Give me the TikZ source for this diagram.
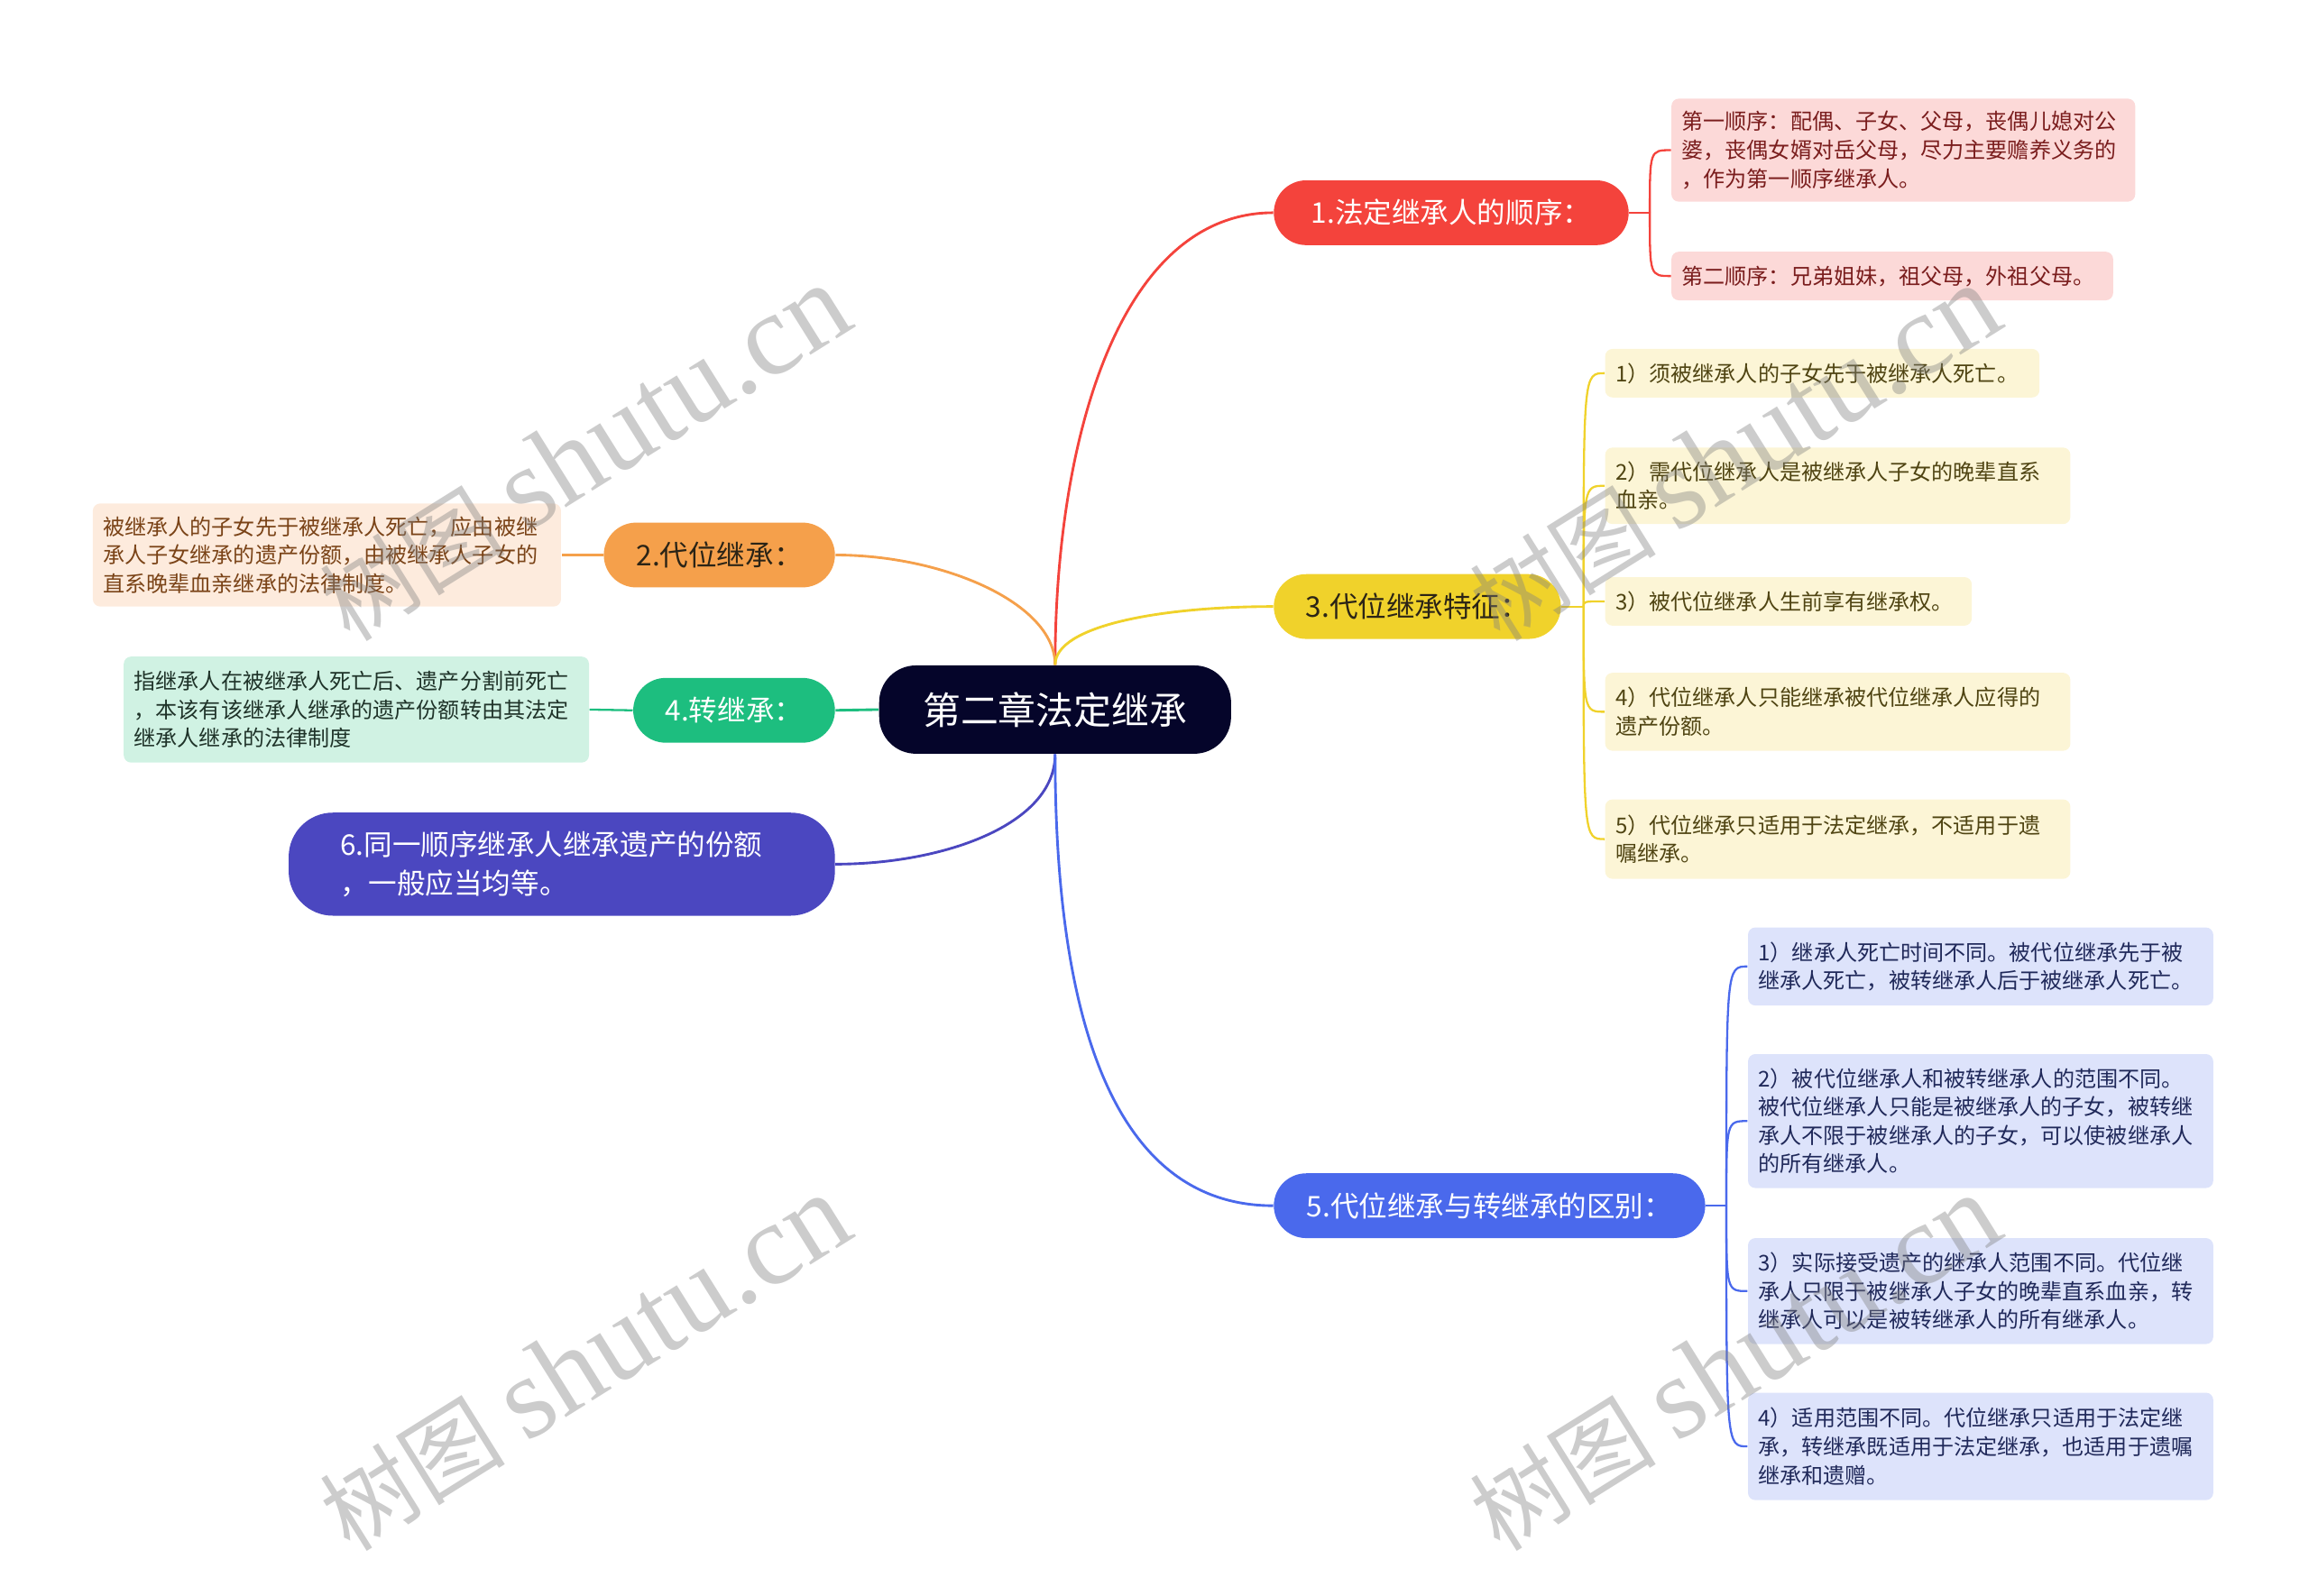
\documentclass[tikz,border=0pt]{standalone}
\usepackage{fontspec}
\setmainfont{Noto Sans CJK SC}
\newfontfamily\serifwm{Liberation Serif}

\definecolor{rootc}{HTML}{05052A}
\definecolor{redc}{HTML}{F4433C}
\definecolor{redleaf}{HTML}{FCD9D8}
\definecolor{redtext}{HTML}{7A1D1D}
\definecolor{orangec}{HTML}{F5A04B}
\definecolor{orangeleaf}{HTML}{FDEBDD}
\definecolor{orangetext}{HTML}{7A4317}
\definecolor{yellowc}{HTML}{F0D22B}
\definecolor{yellowleaf}{HTML}{FCF5D6}
\definecolor{yellowtext}{HTML}{4F4412}
\definecolor{greenc}{HTML}{1DBE7F}
\definecolor{greenleaf}{HTML}{D0F2E3}
\definecolor{greentext}{HTML}{1F3329}
\definecolor{bluec}{HTML}{4A69EC}
\definecolor{blueleaf}{HTML}{DDE3FB}
\definecolor{bluetext}{HTML}{20295A}
\definecolor{indigoc}{HTML}{4B47C0}
\definecolor{darktext}{HTML}{2B2416}

\begin{document}
\begin{tikzpicture}[x=0.02cm, y=-0.02cm]
\tikzset{
  topic/.style  = {shape=rectangle, rounded corners=0.5cm, fill=rootc, text=white,
                   font=\fontsize{14.6pt}{17pt}\selectfont, inner sep=0pt,
                   minimum width=4.78cm, minimum height=1.2cm},
  branch/.style = {shape=rectangle, rounded corners=0.44cm, inner sep=0pt,
                   font=\fontsize{11pt}{14.8pt}\selectfont, minimum height=0.88cm},
  leaf/.style   = {shape=rectangle, rounded corners=0.1cm, inner xsep=0.14cm,
                   inner ysep=0pt, align=left,
                   font=\fontsize{8.4pt}{11pt}\selectfont},
  link/.style   = {line width=1pt},
  twig/.style   = {line width=0.8pt},
  wmark/.style  = {rotate=32, text=black!50, text opacity=0.4,
                   font=\fontsize{36pt}{44pt}\selectfont}
}
\useasboundingbox (0,0) rectangle (1568,1084);

% centre and main branches
\node[topic] (root) at (716.5,482) {第二章法定继承};
\node[branch, fill=redc, text=white, minimum width=4.82cm]
  (legal) at (985.5,144.5) {1.法定继承人的顺序：};
\node[branch, fill=orangec, text=darktext, minimum width=3.14cm]
  (subst) at (488.5,377) {2.代位继承：};
\node[branch, fill=yellowc, text=darktext, minimum width=3.9cm]
  (feat) at (962.5,412) {3.代位继承特征：};
\node[branch, fill=greenc, text=white, minimum width=2.74cm]
  (trans) at (498.5,482.5) {4.转继承：};
\node[branch, fill=bluec, text=white, minimum width=5.86cm]
  (diff) at (1011.5,819) {5.代位继承与转继承的区别：};
\node[branch, fill=indigoc, text=white, align=left, text width=6.02cm,
      inner xsep=0.7cm, minimum height=1.4cm, rounded corners=0.6cm]
  (share) at (381.5,587) {6.同一顺序继承人继承遗产的份额\\，一般应当均等。};

% leaves
\node[leaf, fill=redleaf, text=redtext, text width=6.02cm, minimum height=1.4cm]
  (legal-1) at (1292.5,102) {第一顺序：配偶、子女、父母，丧偶儿媳对公\\婆，丧偶女婿对岳父母，尽力主要赡养义务的\\，作为第一顺序继承人。};
\node[leaf, fill=redleaf, text=redtext, text width=5.72cm, minimum height=0.66cm]
  (legal-2) at (1285,187.5) {第二顺序：兄弟姐妹，祖父母，外祖父母。};

\node[leaf, fill=orangeleaf, text=orangetext, text width=6.08cm, minimum height=1.4cm]
  (subst-1) at (222,377) {被继承人的子女先于被继承人死亡，应由被继\\承人子女继承的遗产份额，由被继承人子女的\\直系晚辈血亲继承的法律制度。};

\node[leaf, fill=yellowleaf, text=yellowtext, text width=5.62cm, minimum height=0.66cm]
  (feat-1) at (1237.5,253.5) {1）须被继承人的子女先于被继承人死亡。};
\node[leaf, fill=yellowleaf, text=yellowtext, text width=6.04cm, minimum height=1.04cm]
  (feat-2) at (1248,330) {2）需代位继承人是被继承人子女的晚辈直系\\血亲。};
\node[leaf, fill=yellowleaf, text=yellowtext, text width=4.7cm, minimum height=0.66cm]
  (feat-3) at (1214.5,408.5) {3）被代位继承人生前享有继承权。};
\node[leaf, fill=yellowleaf, text=yellowtext, text width=6.04cm, minimum height=1.06cm]
  (feat-4) at (1248,483.5) {4）代位继承人只能继承被代位继承人应得的\\遗产份额。};
\node[leaf, fill=yellowleaf, text=yellowtext, text width=6.04cm, minimum height=1.08cm]
  (feat-5) at (1248,570) {5）代位继承只适用于法定继承，不适用于遗\\嘱继承。};

\node[leaf, fill=greenleaf, text=greentext, text width=6.04cm, minimum height=1.44cm]
  (trans-1) at (242,482) {指继承人在被继承人死亡后、遗产分割前死亡\\，本该有该继承人继承的遗产份额转由其法定\\继承人继承的法律制度};

\node[leaf, fill=blueleaf, text=bluetext, text width=6.04cm, minimum height=1.06cm]
  (diff-1) at (1345,656.5) {1）继承人死亡时间不同。被代位继承先于被\\继承人死亡，被转继承人后于被继承人死亡。};
\node[leaf, fill=blueleaf, text=bluetext, text width=6.04cm, minimum height=1.82cm]
  (diff-2) at (1345,761.5) {2）被代位继承人和被转继承人的范围不同。\\被代位继承人只能是被继承人的子女，被转继\\承人不限于被继承人的子女，可以使被继承人\\的所有继承人。};
\node[leaf, fill=blueleaf, text=bluetext, text width=6.04cm, minimum height=1.44cm]
  (diff-3) at (1345,877) {3）实际接受遗产的继承人范围不同。代位继\\承人只限于被继承人子女的晚辈直系血亲，转\\继承人可以是被转继承人的所有继承人。};
\node[leaf, fill=blueleaf, text=bluetext, text width=6.04cm, minimum height=1.46cm]
  (diff-4) at (1345,982.5) {4）适用范围不同。代位继承只适用于法定继\\承，转继承既适用于法定继承，也适用于遗嘱\\继承和遗赠。};

% root connectors
\draw[link, redc] (root.north) .. controls +(0,-152) and +(-105,0) .. (legal.west);
\draw[link, orangec] (root.north) .. controls +(0,-42) and +(73,0) .. (subst.east);
\draw[link, yellowc] (root.north) .. controls +(0,-27) and +(-75,0) .. (feat.west);
\draw[link, greenc] (root.west) -- (trans.east);
\draw[link, indigoc] (root.south) .. controls +(0,48) and +(73,0) .. (share.east);
\draw[link, bluec] (root.south) .. controls +(0,188) and +(-105,0) .. (diff.west);

% leaf connectors
\draw[twig, orangec] (subst.west) -- (subst-1.east);
\draw[twig, greenc] (trans.west) -- (trans-1.east);
\draw[twig, redc] (legal.east) -- ++(14,0) coordinate (legal-j);
\foreach \l in {legal-1, legal-2}
  \draw[twig, redc] (legal-j) .. controls (legal-j |- \l.west) .. (\l.west);
\draw[twig, yellowc] (feat.east) -- ++(15,0) coordinate (feat-j);
\foreach \l in {feat-1, feat-2, feat-3, feat-4, feat-5}
  \draw[twig, yellowc] (feat-j) .. controls (feat-j |- \l.west) .. (\l.west);
\draw[twig, bluec] (diff.east) -- ++(14,0) coordinate (diff-j);
\foreach \l in {diff-1, diff-2, diff-3, diff-4}
  \draw[twig, bluec] (diff-j) .. controls (diff-j |- \l.west) .. (\l.west);

% watermarks
\foreach \wx/\wy [count=\i] in {397/308, 1178/308, 397/926, 1178/926}
  \node[wmark] (wm\i) at (\wx,\wy) {树图 {\serifwm\fontsize{45pt}{50pt}\selectfont shutu.cn}};
\end{tikzpicture}
\end{document}
